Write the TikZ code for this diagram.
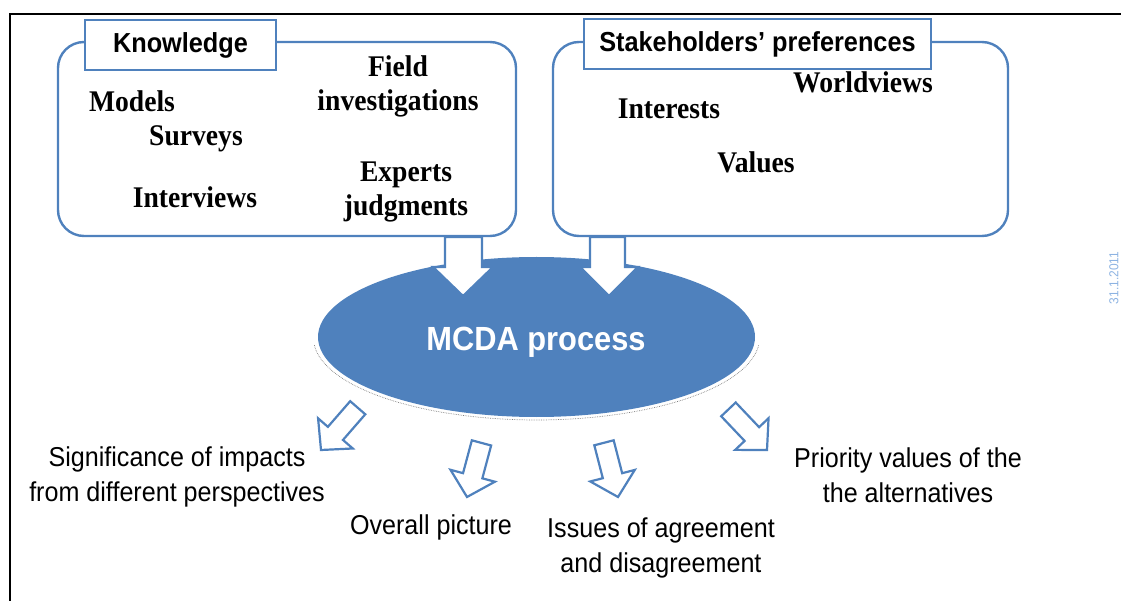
\documentclass[tikz,border=0pt]{standalone}
\usepackage{fontspec}
\setmainfont{Liberation Serif}
\newfontfamily\labsans[FakeStretch=0.92]{Liberation Sans}
\newfontfamily\labserif[FakeStretch=0.92]{Liberation Serif}
\usetikzlibrary{shapes.geometric}
\definecolor{ofblue}{RGB}{79,129,189}
\definecolor{datecol}{RGB}{141,179,226}
\tikzset{
 grpbox/.style={draw=ofblue, line width=2.4pt, rounded corners=26pt, inner sep=0pt},
 titlebox/.style={draw=ofblue, line width=2.4pt, fill=white, inner sep=0pt,
   font=\labsans\bfseries\fontsize{27.5}{32}\selectfont},
 item/.style={font=\labserif\bfseries\fontsize{30}{34}\selectfont, align=center, inner sep=0pt},
 outlab/.style={font=\labsans\fontsize{27.3}{35}\selectfont, align=center, inner sep=0pt},
 bigarrow/.style={draw=ofblue, line width=2.2pt, fill=white},
 smallarrow/.style={draw=ofblue, line width=2.2pt, fill=white},
 pics/barrow/.style={code={\path[smallarrow] (-56,-10) -- (-22,-10) -- (-22,-23) -- (0,0) -- (-22,23) -- (-22,10) -- (-56,10) -- cycle;}}
}
\begin{document}
\begin{tikzpicture}[x=1pt,y=-1pt]
\useasboundingbox (0,0) rectangle (1121,601);
% outer frame (only top and left edges visible)
\draw[line width=2pt] (10,640) -- (10,14) -- (1160,14);
% group boxes
\node[grpbox, minimum width=458pt, minimum height=194pt] (kbox) at (287,139) {};
\node[grpbox, minimum width=455pt, minimum height=194pt] (sbox) at (780.5,139) {};
\node[titlebox, minimum width=191pt, minimum height=50pt] (ktitle) at (180.5,45) {Knowledge};
\node[titlebox, minimum width=347pt, minimum height=50pt] (stitle) at (757.5,44) {Stakeholders’ preferences};
% knowledge items
\node[item, anchor=base] (models) at (132,112) {Models};
\node[item, anchor=base] (surveys) at (196,146) {Surveys};
\node[item, anchor=base] (interviews) at (195,208) {Interviews};
\node[item] (field) at (398,86) {Field\\investigations};
\node[item] (experts) at (406,192) {Experts\\judgments};
% preference items
\node[item, anchor=base] (worldviews) at (863,93) {Worldviews};
\node[item, anchor=base] (interests) at (669,119) {Interests};
\node[item, anchor=base] (values) at (756,173) {Values};
% MCDA ellipse
\node[ellipse, fill=ofblue, minimum width=437pt, minimum height=160pt, inner sep=0pt] (mcda) at (536.5,337) {};
\node[anchor=base, inner sep=0pt, text=white, font=\labsans\bfseries\fontsize{33.5}{38}\selectfont] (mcdalabel) at (536,351) {MCDA process};
\draw[gray, densely dotted, line width=0.7pt] plot[domain=185:355, samples=80]
  ({536.5+223*cos(\x)}, {338-82*sin(\x)});
% big input arrows
\draw[bigarrow] (445,237) -- (445,267) -- (433,267) -- (463,296) -- (493,267) -- (482,267) -- (482,237) -- cycle;
\draw[bigarrow] (590,237) -- (590,267) -- (580,267) -- (609,296) -- (638,267) -- (625,267) -- (625,237) -- cycle;
% output arrows
\pic[rotate=-131] at (321,450) {barrow};
\pic[rotate=-105] at (467,497) {barrow};
\pic[rotate=-75.5] at (618,497) {barrow};
\pic[rotate=-46.5] at (767,450) {barrow};
% output labels
\node[outlab] (signif) at (177,477) {Significance of impacts\\from different perspectives};
\node[outlab] (overall) at (431,527) {Overall picture};
\node[outlab] (issues) at (661,548) {Issues of agreement\\and disagreement};
\node[outlab] (priority) at (908,475) {Priority values of the\\the alternatives};
% date
\node[rotate=90, text=datecol, inner sep=0pt, font=\labsans\fontsize{13}{15}\selectfont] (date) at (1114,278) {31.1.2011};
\end{tikzpicture}
\end{document}
